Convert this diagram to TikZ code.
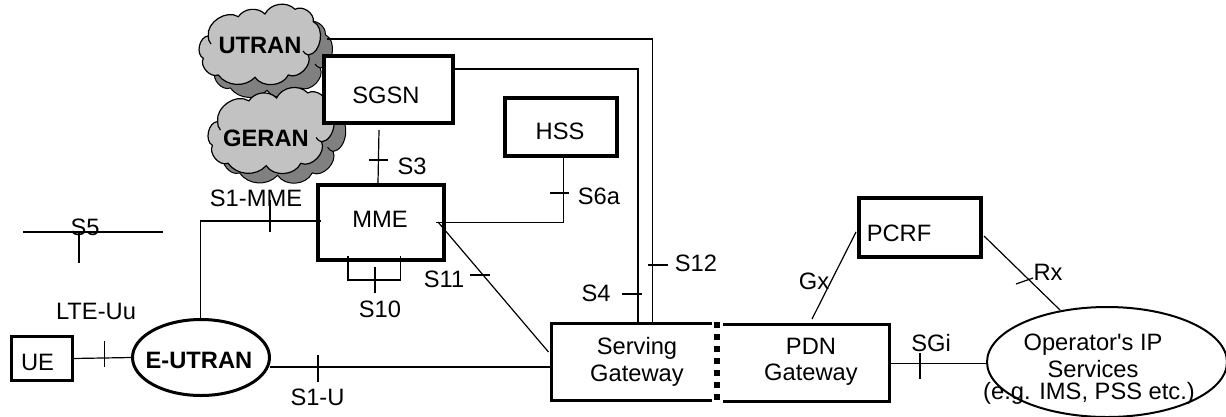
\documentclass[tikz,border=0pt]{standalone}
\usepackage{fontspec}
\setmainfont{Liberation Sans}
\newfontfamily\plainface{Liberation Sans}
\newcommand{\cloudoutline}{(208.3,36) to[bend left=65] (238.3,16.7) to[bend left=50] (265,14) to[bend left=55] (295,9.3) to[bend left=65] (313.3,21.7) to[bend left=75] (308.3,55) to[bend left=70] (288.3,75) to[bend left=60] (255,77.3) to[bend left=50] (218.3,75) to[bend left=70] (203.3,58.3) to[bend left=75] (208.3,36) -- cycle (208.3,36) to[bend right=20] (211,44) (308.3,55) to[bend left=20] (303,51)}
\newcommand{\tickmark}[3]{\coordinate (#1a) at (#2); \coordinate (#1b) at (#3); \draw[conn] (#1a) -- (#1b);}
\tikzset{
  lab/.style={anchor=base,inner sep=0pt,outer sep=0pt,font=\fontsize{23.7}{26}\selectfont},
  blab/.style={lab,font=\fontsize{23.7}{26}\selectfont\bfseries},
  conn/.style={draw=black,line width=1.2pt},
  thickbox/.style={draw=black,fill=white,line width=4pt,rectangle,inner sep=0pt,outer sep=0pt},
  gwbox/.style={rectangle,inner sep=0pt,outer sep=0pt},
  gwedge/.style={draw=black,line width=3pt,line cap=butt},
  ell/.style={ellipse,draw=black,inner sep=0pt,outer sep=0pt},
  cloudback/.style={draw=black,fill=black!50,line width=1pt},
  cloudfront/.style={draw=black,fill=black!24,line width=1.2pt}
}
\usetikzlibrary{shapes.geometric}
\begin{document}
\begin{tikzpicture}[x=1pt,y=-1pt]
\useasboundingbox (0,0) rectangle (1226,416);
% clouds
\begin{scope}[shift={(12,13)}]\path[cloudback] \cloudoutline;\end{scope}
\path[cloudfront] \cloudoutline;
\begin{scope}[shift={(1,83)},xscale=1.04,yscale=1.07]
 \begin{scope}[shift={(11,9)}]\path[cloudback] \cloudoutline;\end{scope}
 \path[cloudfront] \cloudoutline;
\end{scope}
% boxes
\node[thickbox,minimum width=61pt,minimum height=44pt,line width=3pt] (ue) at (42,358.5) {};
\node[ell,line width=3pt,minimum width=137pt,minimum height=76pt] (eutran) at (201,357.5) {};
\node[thickbox,minimum width=126pt,minimum height=75pt] (mme) at (381,222.5) {};
\node[thickbox,minimum width=129pt,minimum height=67pt] (sgsn) at (388.5,89.5) {};
\node[thickbox,minimum width=112pt,minimum height=58pt] (hss) at (561,127) {};
\node[thickbox,minimum width=122pt,minimum height=59pt] (pcrf) at (920,227.5) {};
\node[gwbox,minimum width=160pt,minimum height=77pt] (sgw) at (631.5,362) {};
\node[gwbox,minimum width=167pt,minimum height=77pt] (pdn) at (806,363) {};
\node[ell,line width=2pt,minimum width=240pt,minimum height=110pt] (ops) at (1107,362) {};
\draw[gwedge] (sgw.north east) -- (sgw.north west) -- (sgw.south west) -- (sgw.south east);
\draw[gwedge] (pdn.north west) -- (pdn.north east) -- (pdn.south east) -- (pdn.south west);
\coordinate (divT) at (717,322);
\coordinate (divB) at (717,401);
\draw[draw=black,line width=6pt,dash pattern=on 6pt off 6pt] (divT) -- (divB);
% coordinates
\coordinate (s5l) at (23,232); \coordinate (s5r) at (163,232);
\coordinate (utranEnd) at (327,39); \coordinate (s12corner) at (652.5,39);
\coordinate (s4start) at (451,69); \coordinate (s4corner) at (638,69);
\coordinate (s3top) at (379,130); \coordinate (s3bot) at (378,183);
\coordinate (mmeS6) at (436,222.5); \coordinate (s6corner) at (563.5,222.5);
\coordinate (mmeS11) at (438,222); \coordinate (sgwS11) at (548.5,352);
\coordinate (s1corner) at (200.5,221); \coordinate (mmeS1) at (321,221);
\coordinate (brL) at (348,256); \coordinate (brLb) at (348,280); \coordinate (brRb) at (400.5,280); \coordinate (brR) at (400.5,256);
\coordinate (gxT) at (856,232); \coordinate (gxB) at (812,319);
\coordinate (rxT) at (984,236); \coordinate (rxB) at (1060,310);
% connectors
\draw[conn] (s5l) -- (s5r);
\draw[conn] (ue.east) -- (eutran.west);
\draw[conn] (eutran.north -| s1corner) -- (s1corner) -- (mmeS1);
\draw[conn] (eutran.east |- 0,367) -- (sgw.west |- 0,367);
\draw[conn] (utranEnd) -- (s12corner) -- (s12corner |- sgw.north);
\draw[conn] (s4start) -- (s4corner) -- (s4corner |- sgw.north);
\draw[conn] (s3top) -- (s3bot);
\draw[conn] (mmeS6) -- (s6corner) -- (s6corner |- hss.south);
\draw[conn] (mmeS11) -- (sgwS11);
\draw[conn] (brL) -- (brLb) -- (brRb) -- (brR);
\draw[conn] (gxT) -- (gxB);
\draw[conn] (rxT) -- (rxB);
\draw[conn] (pdn.east |- 0,363.5) -- (ops.west |- 0,363.5);
% ticks
\tickmark{tS5}{79,232}{79,263}
\tickmark{tS1m}{270,200}{270,232}
\tickmark{tUu}{104.5,341}{104.5,367}
\tickmark{tS1u}{318,355}{318,382}
\tickmark{tS10}{375,267}{375,293}
\tickmark{tS3}{369,160}{388,160}
\tickmark{tS6}{550,193}{569,193}
\tickmark{tS11}{470,275}{490,275}
\tickmark{tS4}{622,294}{642,294}
\tickmark{tS12}{648,265}{668,265}
\tickmark{tRx}{1016,284}{1033,278}
\tickmark{tSGi}{920,353}{920,379}
% texts
\node[blab] (utranT) at (260,53) {UTRAN};
\node[blab] (geranT) at (266,146) {GERAN};
\node[blab] (eutranT) at (199,368) {E-UTRAN};
\node[lab] (sgsnT) at (386,103) {SGSN};
\node[lab] (mmeT) at (380,227) {MME};
\node[lab] (hssT) at (560,139) {HSS};
\node[lab] (pcrfT) at (899,241) {PCRF};
\node[lab] (ueT) at (37.5,370) {UE};
\node[lab] (s5T) at (85,235) {S5};
\node[lab] (s1mT) at (256,206) {S1-MME};
\node[lab] (uuT) at (96,319) {LTE-Uu};
\node[lab] (s10T) at (380,317) {S10};
\node[lab] (s11T) at (444,287) {S11};
\node[lab] (s1uT) at (317.5,405) {S1-U};
\node[lab] (s3T) at (412,174) {S3};
\node[lab] (s6T) at (599,204) {S6a};
\node[lab] (s12T) at (696,271) {S12};
\node[lab] (s4T) at (596,301) {S4};
\node[lab] (servT) at (637,354) {Serving};
\node[lab] (gwT) at (637,381) {Gateway};
\node[lab] (pdnT) at (811,354) {PDN};
\node[lab] (gw2T) at (811,380) {Gateway};
\node[lab] (gxL) at (814,289) {Gx};
\node[lab] (rxL) at (1048,280) {Rx};
\node[lab] (sgiT) at (931,351) {SGi};
\node[lab] (op1) at (1093,350) {Operator{\plainface\symbol{39}}s IP};
\node[lab] (op2) at (1093,377) {Services};
\node[lab] (op3) at (1089,399) {(e.g. IMS, PSS etc.)};
\end{tikzpicture}
\end{document}
